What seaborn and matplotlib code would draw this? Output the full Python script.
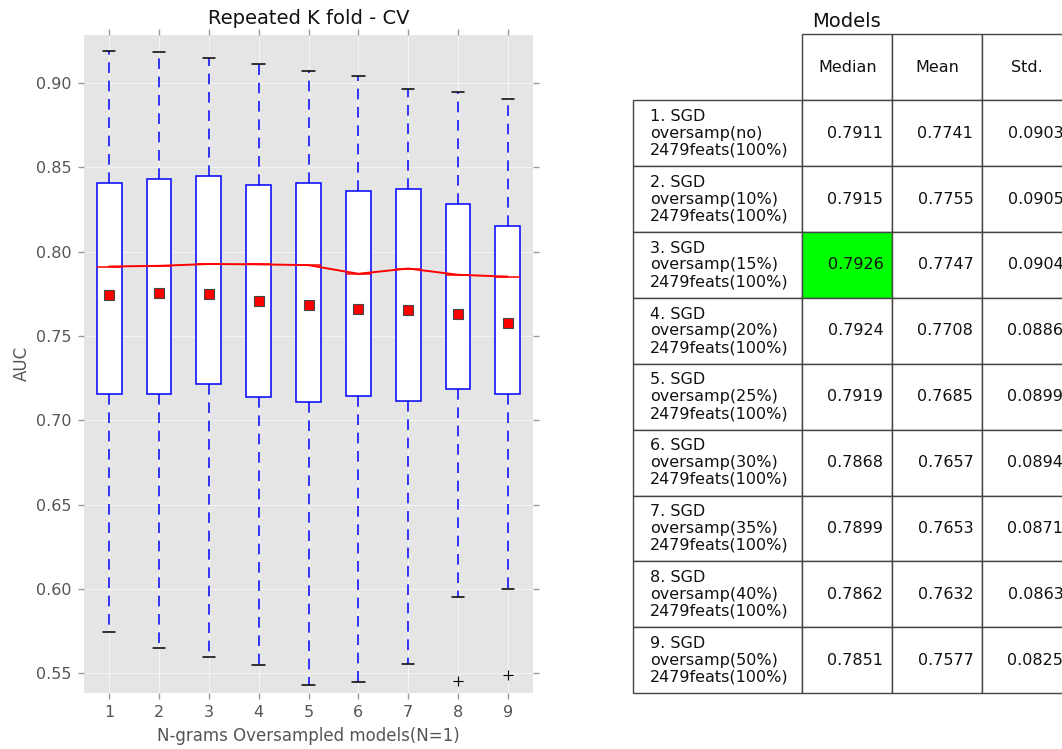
import numpy as np
import pandas as pd
import matplotlib
matplotlib.use("Agg")
import matplotlib.pyplot as plt
import seaborn as sns

# ---------------- data ----------------
models = [1, 2, 3, 4, 5, 6, 7, 8, 9]
oversamp = ["no", "10%", "15%", "20%", "25%", "30%", "35%", "40%", "50%"]
medians = [0.7911, 0.7915, 0.7926, 0.7924, 0.7919, 0.7868, 0.7899, 0.7862, 0.7851]
means = [0.7741, 0.7755, 0.7747, 0.7708, 0.7685, 0.7657, 0.7653, 0.7632, 0.7577]
stds = [0.0903, 0.0905, 0.0904, 0.0886, 0.0899, 0.0894, 0.0871, 0.0863, 0.0825]
q1 = [0.7153, 0.7153, 0.7212, 0.7135, 0.7107, 0.7143, 0.7115, 0.7186, 0.7153]
q3 = [0.8404, 0.8429, 0.8447, 0.8395, 0.8404, 0.8360, 0.8368, 0.8281, 0.8149]
whislo = [0.5742, 0.5647, 0.5596, 0.5552, 0.5430, 0.5446, 0.5558, 0.5953, 0.5997]
whishi = [0.9190, 0.9182, 0.9146, 0.9113, 0.9069, 0.9041, 0.8963, 0.8947, 0.8903]
fliers = [[], [], [], [], [], [], [], [0.5453], [0.5491]]
col_labels = ["Median", "Mean", "Std."]

# ---------------- style ----------------
sns.set_style("darkgrid", rc={
    "axes.facecolor": "#E5E5E5",
    "grid.color": "white",
    "axes.edgecolor": "white",
})
plt.rcParams["font.family"] = ["DejaVu Sans"]

W, H = 1062, 749
fig = plt.figure(figsize=(W / 100, H / 100), dpi=100)
fig.patch.set_facecolor("white")

l, r, t, b = 84.3, 532.7, 34.7, 692.7
ax = fig.add_axes([l / W, 1 - b / H, (r - l) / W, (b - t) / H])

stats = []
for i in range(len(models)):
    stats.append(dict(med=medians[i], q1=q1[i], q3=q3[i], whislo=whislo[i],
                      whishi=whishi[i], mean=means[i], fliers=fliers[i],
                      label=str(models[i])))

ax.bxp(stats, positions=models, widths=0.5, showmeans=True, patch_artist=True,
       boxprops=dict(facecolor="white", edgecolor="#0000FF", linewidth=1.1),
       whiskerprops=dict(color="#0000FF", linestyle=(0, (7, 5)), linewidth=1.1),
       capprops=dict(color="black", linewidth=1.1),
       medianprops=dict(color="red", linewidth=1.1),
       meanprops=dict(marker="s", markerfacecolor="red", markeredgecolor="#444444",
                      markeredgewidth=0.8, markersize=7),
       flierprops=dict(marker="+", markeredgecolor="black", markersize=7,
                       markeredgewidth=0.8))

med_df = pd.DataFrame({"model": models, "median": medians})
sns.lineplot(data=med_df, x="model", y="median", color="red", linewidth=1.4,
             ax=ax, zorder=5)

ax.set_xlim(0.5, 9.5)
ax.set_ylim(0.5385, 0.9285)
ax.set_xticks(models)
ax.set_xticklabels([str(m) for m in models])
ax.set_yticks([0.55, 0.60, 0.65, 0.70, 0.75, 0.80, 0.85, 0.90])
ax.set_yticklabels(["0.55", "0.60", "0.65", "0.70", "0.75", "0.80", "0.85", "0.90"])
ax.grid(True, color="#F4F4F4", linewidth=0.8)
ax.set_axisbelow(True)
ax.tick_params(axis="both", which="major", direction="out", length=4,
               width=1, color="#999999", labelcolor="#555555", labelsize=11.5,
               bottom=True, top=True, left=True, right=True, pad=5)
for s in ax.spines.values():
    s.set_visible(False)

ax.set_title("Repeated K fold - CV", fontsize=14, color="#111111", pad=8)
ax.set_xlabel("N-grams Oversampled models(N=1)", fontsize=12, color="#555555", labelpad=5)
ax.set_ylabel("AUC", fontsize=12, color="#555555", labelpad=4)

# ---------------- table ----------------
tl, tr, tt, tb = 633.3, 1072.3, 34.3, 693.3
tax = fig.add_axes([tl / W, 1 - tb / H, (tr - tl) / W, (tb - tt) / H])
tax.axis("off")

row_texts = [f"{m}. SGD\noversamp({o})\n2479feats(100%)" for m, o in zip(models, oversamp)]
cell_text = [[rt, f"{a:.4f}", f"{bb:.4f}", f"{c:.4f}"]
             for rt, a, bb, c in zip(row_texts, medians, means, stds)]
widths = np.array([169, 90, 90, 90], dtype=float)
widths = widths / widths.sum()
table = tax.table(cellText=cell_text, colLabels=[""] + col_labels,
                  colWidths=list(widths), cellLoc="right", colLoc="center",
                  bbox=[0, 0, 1, 1])
table.auto_set_font_size(False)
table.set_fontsize(11.5)
best = int(np.argmax(medians))
for (ri, ci), cell in table.get_celld().items():
    cell.set_edgecolor("#444444")
    cell.set_linewidth(1.0)
    cell.get_text().set_color("#111111")
    if ri == 0 and ci == 0:
        cell.visible_edges = ""
    elif ci == 0 and ri > 0:
        cell._loc = "left"
        cell.get_text().set_ha("left")
        cell.get_text().set_linespacing(1.15)
table[best + 1, 1].set_facecolor("#00FF00")

fig.text(847 / W, 1 - 27.3 / H, "Models", ha="center", va="baseline",
         fontsize=14, color="#111111")

fig.savefig("out.png", dpi=100)
